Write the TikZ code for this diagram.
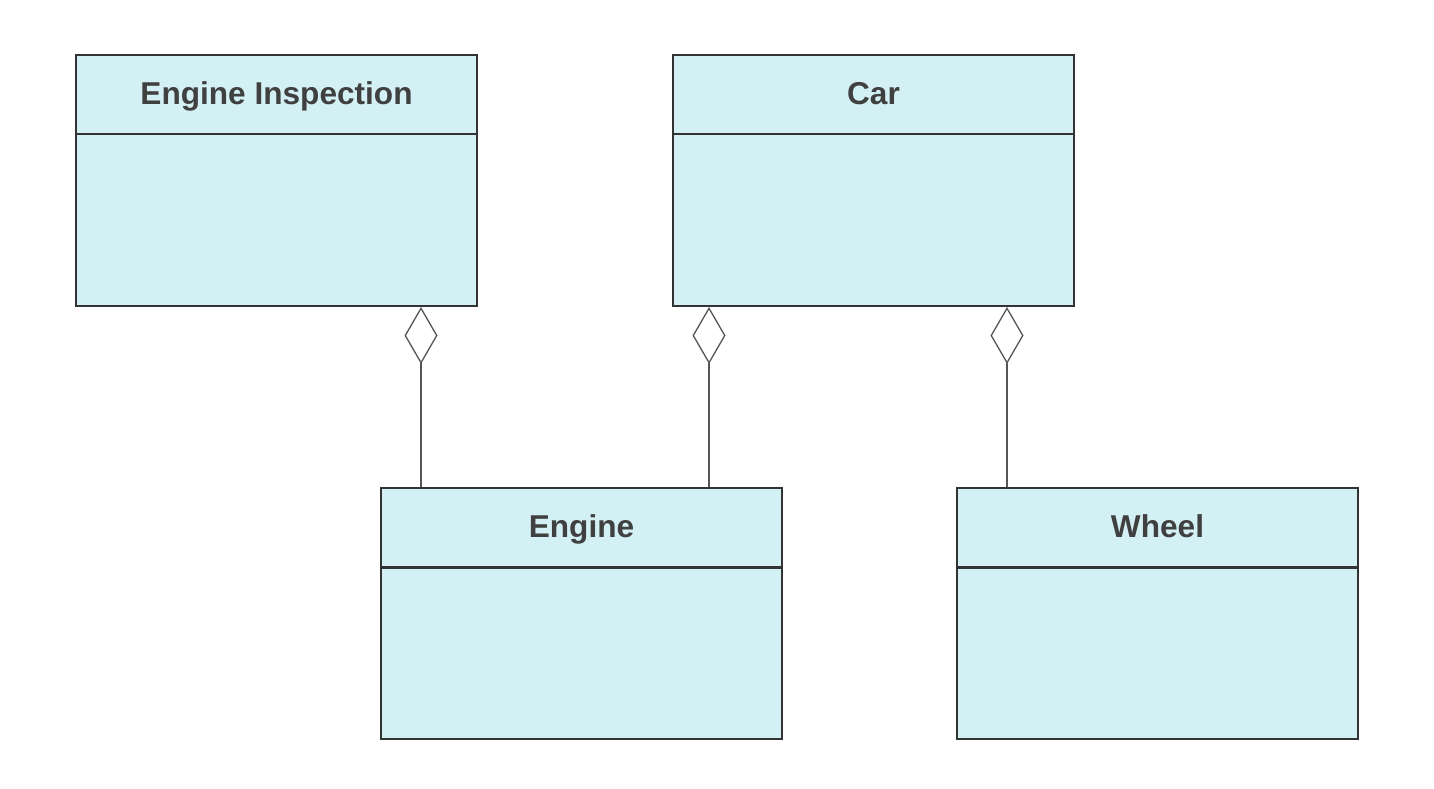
\documentclass[tikz,border=0pt]{standalone}
\usepackage{fontspec}
\setmainfont{Liberation Sans}
\usetikzlibrary{arrows.meta,calc}
\definecolor{boxfill}{HTML}{D3F0F4}
\definecolor{boxline}{HTML}{333333}
\definecolor{txt}{HTML}{404040}
\definecolor{conn}{HTML}{555555}
\begin{document}
\begin{tikzpicture}[x=0.5pt,y=-0.5pt,
  classbox/.style={draw=boxline,fill=boxfill,line width=1pt,rectangle,
    minimum width=200.5pt,minimum height=125.5pt,anchor=north west,inner sep=0pt},
  title/.style={font=\bfseries\fontsize{15.8pt}{18pt}\selectfont,text=txt,anchor=base,inner sep=0pt},
  agg/.style={draw=conn,line width=0.65pt,{Diamond[open,length=28.5pt,width=16.5pt,line width=0.65pt]}-}
]
\useasboundingbox (0,0) rectangle (1434,788);
% boxes
\node[classbox] (ei) at (75,54) {};
\node[classbox] (car) at (672,54) {};
\node[classbox] (engine) at (380,487) {};
\node[classbox] (wheel) at (956,487) {};
% header lines
\draw[boxline,line width=1pt] ([yshift=-40pt]ei.north west) -- ([yshift=-40pt]ei.north east);
\draw[boxline,line width=1pt] ([yshift=-40pt]car.north west) -- ([yshift=-40pt]car.north east);
\draw[boxline,line width=1.5pt] ([yshift=-40pt]engine.north west) -- ([yshift=-40pt]engine.north east);
\draw[boxline,line width=1.5pt] ([yshift=-40pt]wheel.north west) -- ([yshift=-40pt]wheel.north east);
% titles
\node[title] (tei) at ([yshift=-25pt]ei.north) {Engine Inspection};
\node[title] (tcar) at ([yshift=-25pt]car.north) {Car};
\node[title] (teng) at ([yshift=-25pt]engine.north) {Engine};
\node[title] (twh) at ([yshift=-25pt]wheel.north) {Wheel};
% connector ends
\coordinate (e1) at ([xshift=20.5pt]engine.north west);
\coordinate (e2) at ([xshift=164.5pt]engine.north west);
\coordinate (w1) at ([xshift=25.5pt]wheel.north west);
\draw[agg] (e1 |- ei.south) -- (e1);
\draw[agg] (e2 |- car.south) -- (e2);
\draw[agg] (w1 |- car.south) -- (w1);
\end{tikzpicture}
\end{document}
